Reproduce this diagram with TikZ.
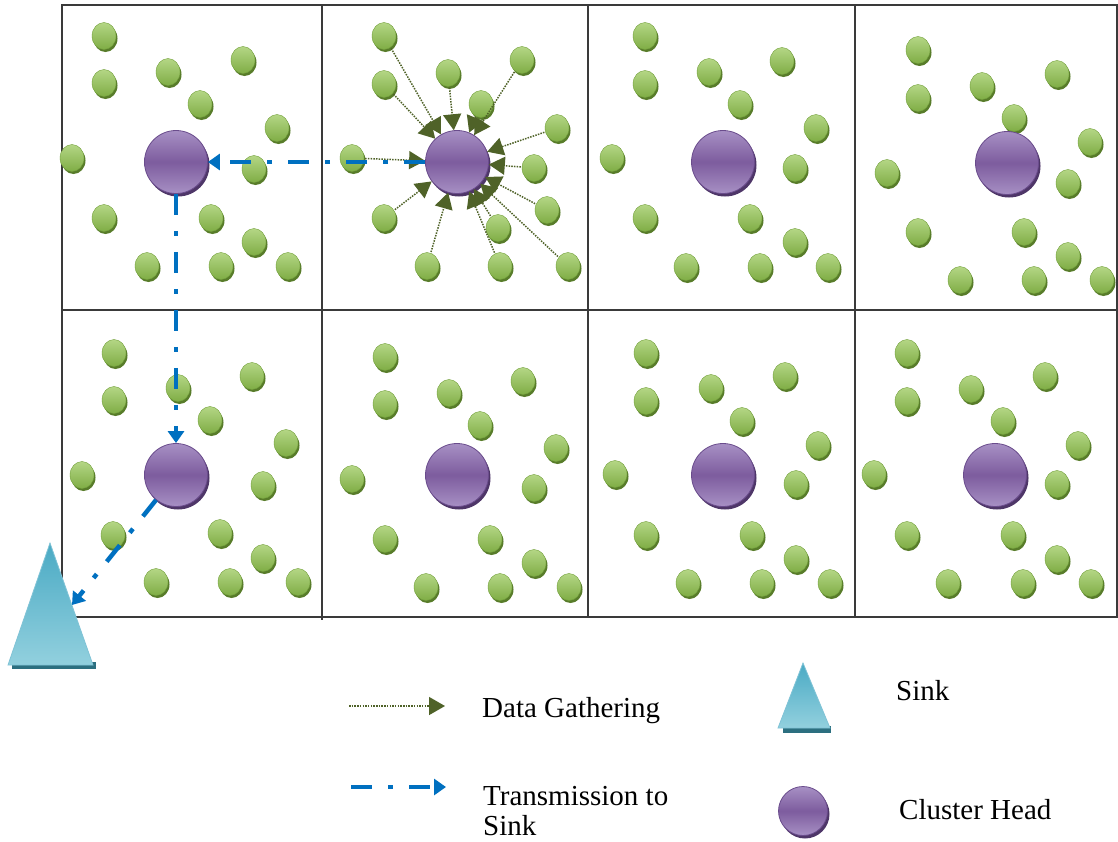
\documentclass[tikz,border=0pt]{standalone}
\usepackage{fontspec}
\setmainfont{Liberation Serif}
\usetikzlibrary{arrows.meta,shapes.geometric,shadows}

\definecolor{leafhi}{HTML}{B4D685}
\definecolor{leaflo}{HTML}{7FAD45}
\definecolor{leafedge}{HTML}{73A03C}
\definecolor{leafshade}{HTML}{587C2A}
\definecolor{headhi}{HTML}{A790C4}
\definecolor{headmid}{HTML}{7D5C9E}
\definecolor{headedge}{HTML}{6A4C8C}
\definecolor{headshade}{HTML}{4E3668}
\definecolor{sinkhi}{HTML}{4AAAC4}
\definecolor{sinklo}{HTML}{92D0DE}
\definecolor{sinkshade}{HTML}{2C6F80}
\definecolor{gatherc}{HTML}{4F6228}
\definecolor{sendc}{HTML}{0070C0}
\definecolor{gridc}{HTML}{3A3A3A}

\tikzset{
  sensor/.style={ellipse, inner sep=0pt, minimum width=24pt, minimum height=27pt,
    draw=leafedge, line width=0.4pt, top color=leafhi, bottom color=leaflo,
    drop shadow={shadow xshift=1.5pt, shadow yshift=-2.5pt, fill=leafshade, opacity=1}},
  head/.style={circle, inner sep=0pt, minimum size=63pt, draw=headedge, line width=0.8pt,
    top color=headhi, bottom color=headhi, middle color=headmid,
    drop shadow={shadow xshift=2pt, shadow yshift=-3pt, fill=headshade, opacity=1}},
  gather/.style={gatherc, line width=1.5pt, dash pattern=on 1.5pt off 1.2pt,
    -{Triangle[length=16pt,width=18pt]}, shorten <=1pt},
  transmit/.style={sendc, line width=4.5pt, dash pattern=on 21pt off 16pt on 5pt off 16pt,
    -{Triangle[length=12pt,width=16pt]}},
  legtext/.style={font=\fontsize{29}{30}\selectfont, inner sep=0pt},
}

\begin{document}
\begin{tikzpicture}[x=1pt,y=-1pt]
   \useasboundingbox (0,0) rectangle (1118,841);
   \draw[gridc, line width=1.5pt] (62,5) rectangle (1117,617);
   \draw[gridc, line width=1.5pt] (322,5) -- (322,620);
   \draw[gridc, line width=1.5pt] (588,5) -- (588,617);
   \draw[gridc, line width=1.5pt] (855,5) -- (855,617);
   \draw[gridc, line width=1.5pt] (62,310) -- (1117,310);

   \foreach \x/\y [count=\i] in {104/36,104/83,168/72,243/60,200/104,277/128,72/158,254/169,104/218,211/218,254/242,147/266,221/266,288/266}
      \node[sensor] (a\i) at (\x,\y) {};
   \foreach \x/\y [count=\i] in {384/36,384/84,448/73,522/60,481/104,557/128,352/158,534/168,384/218,547/210,498/228,427/266,500/266,568/266}
      \node[sensor] (b\i) at (\x,\y) {};
   \foreach \x/\y [count=\i] in {645/36,645/84,709/72,782/61,740/104,816/128,612/158,795/168,645/218,750/218,795/242,686/267,760/267,828/267}
      \node[sensor] (c\i) at (\x,\y) {};
   \foreach \x/\y [count=\i] in {918/50,918/98,982/86,1057/74,1014/118,1090/142,887/173,1068/183,918/232,1024/232,1068/256,960/280,1034/280,1102/280}
      \node[sensor] (d\i) at (\x,\y) {};
   \foreach \x/\y [count=\i] in {114/353,114/400,178/388,252/376,210/420,286/443,82/475,263/485,113/535,220/533,263/558,156/582,230/582,298/582}
      \node[sensor] (e\i) at (\x,\y) {};
   \foreach \x/\y [count=\i] in {385/357,385/404,449/393,523/381,480/425,556/448,352/479,534/488,385/539,490/539,534/563,426/587,500/587,569/587}
      \node[sensor] (f\i) at (\x,\y) {};
   \foreach \x/\y [count=\i] in {646/353,646/401,711/388,785/376,742/421,818/445,615/474,796/484,646/535,752/535,796/559,688/583,762/583,830/583}
      \node[sensor] (g\i) at (\x,\y) {};
   \foreach \x/\y [count=\i] in {907/353,907/401,971/389,1045/376,1003/421,1078/445,874/474,1057/484,907/535,1013/535,1057/559,948/583,1023/583,1091/583}
      \node[sensor] (h\i) at (\x,\y) {};

   \node[head] (ch1) at (176,162) {};
   \node[head] (ch2) at (457,162) {};
   \node[head] (ch3) at (723,162) {};
   \node[head] (ch4) at (1007,163) {};
   \node[head] (ch5) at (176,475) {};
   \node[head] (ch6) at (457,475) {};
   \node[head] (ch7) at (723,475) {};
   \node[head] (ch8) at (995,475) {};

   \foreach \i in {1,...,14}
      \draw[gather] (b\i) -- (ch2);

   \fill[sinkshade] (12,662) -- (96,662) -- (96,669) -- (12,669) -- cycle;
   \shade[top color=sinkhi, bottom color=sinklo, draw=sinkhi!70!white, line width=0.8pt]
      (50,543) -- (93,665) -- (8,665) -- cycle;
   \coordinate (sinkin) at (72,605);

   \draw[transmit] (ch2) -- (ch1);
   \draw[transmit] (ch1) -- (ch5);
   \draw[transmit] (ch5) -- (sinkin);

   \coordinate (gatherA) at (348,706);
   \coordinate (gatherB) at (445,706);
   \draw[gather] (gatherA) -- (gatherB);
   \coordinate (sendA) at (351,787);
   \coordinate (sendB) at (446,787);
   \draw[transmit] (sendA) -- (sendB);
   \node[legtext, anchor=base west] (lgdata) at (482,717) {Data Gathering};
   \node[legtext, anchor=base west, align=left] (lgsend) at (483,835) {Transmission to\\Sink};

   \fill[sinkshade] (783,726) -- (831,726) -- (831,733) -- (783,733) -- cycle;
   \shade[top color=sinkhi, bottom color=sinklo, draw=sinkhi!70!white, line width=0.8pt]
      (803,663) -- (830,728) -- (778,728) -- cycle;
   \node[head, minimum size=49pt] (lghead) at (803,811) {};
   \node[legtext, anchor=base west] (lgsink) at (896,700) {Sink};
   \node[legtext, anchor=base west] (lgch) at (899,819) {Cluster Head};
\end{tikzpicture}
\end{document}
